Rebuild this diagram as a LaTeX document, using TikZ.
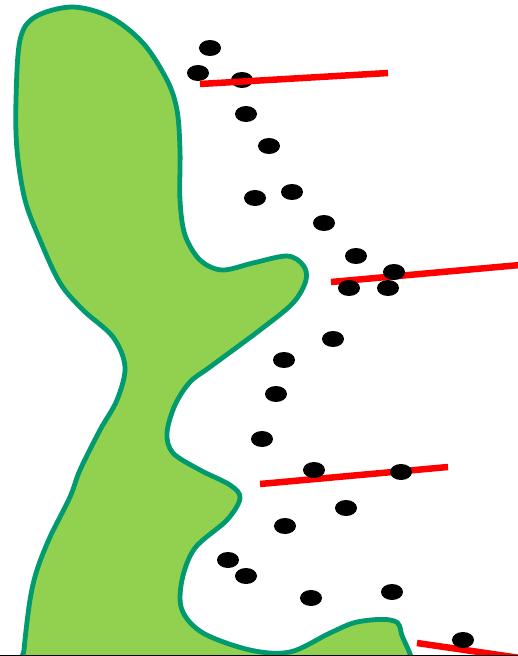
\documentclass[tikz,border=0pt]{standalone}
\usetikzlibrary{shapes.geometric}
\definecolor{leaf}{HTML}{92D050}
\definecolor{rim}{HTML}{009A6E}
\definecolor{barred}{HTML}{FF0000}
\tikzset{
  grain/.style={ellipse, fill=black, draw=none, inner sep=0pt,
                minimum width=22pt, minimum height=16pt},
  bar/.style={barred, line width=6.5pt},
  blob/.style={fill=leaf, draw=rim, line width=4.8pt, line join=round}
}
\begin{document}
\begin{tikzpicture}[x=1pt, y=-1pt]
\useasboundingbox (0,0) rectangle (518,656);
\begin{scope}
\clip (0,0) rectangle (518,656);
% green body, running off the bottom edge
\draw[blob] plot[smooth cycle, tension=0.55] coordinates {
  (22,690) (24,650) (30,600) (37,570) (50,537) (70,497) (80,470)
  (100,430) (117,400) (125,367) (113,337) (83,310) (60,283) (40,240)
  (25,200) (17,150) (16,100) (20,40) (35,17) (72,7) (110,17) (143,43)
  (167,80) (177,110) (180,150) (180,200) (185,235) (200,260) (222,270)
  (253,263) (287,256) (303,265) (306,280) (293,303) (260,330) (210,367)
  (190,382) (175,405) (167,433) (173,453) (200,470) (230,485) (240,498)
  (227,520) (195,548) (182,580) (182,610) (203,633) (250,650) (290,652)
  (330,633) (357,622) (390,620) (401,632) (401,690) (210,700)};

% first bar lies above its grain
\node[grain] (g1) at (210,48) {};
\node[grain] (g2) at (198,73) {};
\node[grain] (g3) at (242,80) {};
\draw[bar] (200,84) -- (388,73);

\draw[bar] (331,282) -- (520,265);
\draw[bar] (260,484) -- (448,467);
\draw[bar] (417,643) -- (520,658);

\node[grain] (g4) at (246,114) {};
\node[grain] (g5) at (269,146) {};
\node[grain] (g6) at (255,198) {};
\node[grain] (g7) at (292,192) {};
\node[grain] (g8) at (324,223) {};
\node[grain] (g9) at (356,256) {};
\node[grain] (g10) at (394,272) {};
\node[grain] (g11) at (349,288) {};
\node[grain] (g12) at (388,288) {};
\node[grain] (g13) at (333,339) {};
\node[grain] (g14) at (284,360) {};
\node[grain] (g15) at (276,394) {};
\node[grain] (g16) at (262,439) {};
\node[grain] (g17) at (314,470) {};
\node[grain] (g18) at (401,472) {};
\node[grain] (g19) at (346,508) {};
\node[grain] (g20) at (285,526) {};
\node[grain] (g21) at (228,560) {};
\node[grain] (g22) at (246,576) {};
\node[grain] (g23) at (311,598) {};
\node[grain] (g24) at (392,592) {};
\node[grain] (g25) at (463,640) {};

% bottom rule
\draw[black, line width=1.5pt] (0,655.3) -- (518,655.3);
\end{scope}
\end{tikzpicture}
\end{document}
